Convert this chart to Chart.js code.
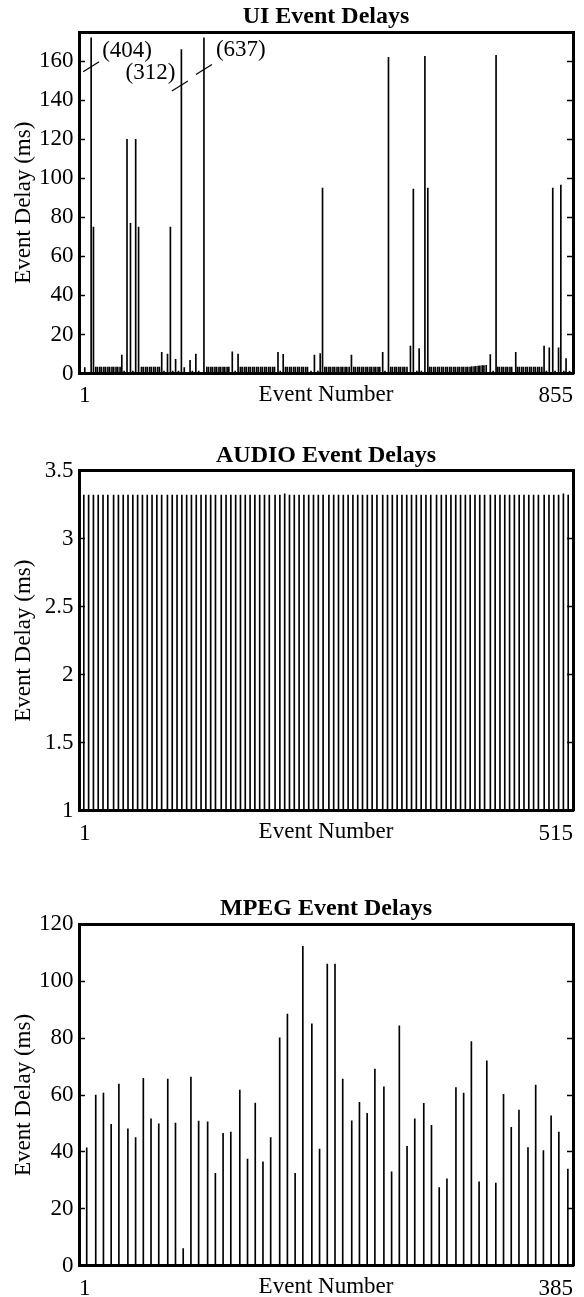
<!DOCTYPE html>
<html>
<head>
<meta charset="utf-8">
<title>Event Delays</title>
<script src="https://cdn.jsdelivr.net/npm/chart.js@4"></script>
<style>
  html, body { margin: 0; padding: 0; background: #fff; overflow: hidden; }
  body { width: 584px; height: 1297px; position: relative; }
  canvas { position: absolute; left: 0; }
</style>
</head>
<body>
<canvas id="ui" width="584" height="436" style="top:0px"></canvas>
<canvas id="audio" width="584" height="436" style="top:438px"></canvas>
<canvas id="mpeg" width="584" height="436" style="top:892px"></canvas>
<script>
// UI events: marks, one line per stretch of the trace
const uiEvents = [
  11, 22, 26,
  30, 33, 37, 40, 44, 47, 51, 54, 58, 61, 65, 68, 72,
  75, 79, 84, 90, 94, 99, 104,
  109, 112, 116, 119, 123, 126, 130, 133, 137, 140,
  144, 148, 154, 159, 163, 168, 173, 178, 183, 193, 197, 203, 208, 217,
  222, 225, 229, 232, 236, 239, 243, 246, 250, 253, 257, 260,
  266, 271, 276,
  280, 283, 287, 290, 294, 297, 301, 304, 308, 311, 315, 318, 322, 325, 329, 332, 336, 339,
  345, 349, 354,
  358, 361, 365, 368, 372, 375, 379, 382, 386, 389, 393, 396,
  402, 408, 414, 418, 422,
  426, 429, 433, 436, 440, 443, 447, 450, 454, 457, 461, 464, 468,
  472,
  476, 479, 483, 486, 490, 493, 497, 500, 504, 507, 511, 514, 518, 521,
  526, 530, 536,
  540, 543, 547, 550, 554, 557, 561, 564, 568,
  574, 579, 585, 589, 593, 599, 604,
  607, 610, 614, 617, 621, 624, 628, 631, 635, 638, 642, 645, 649, 652, 656, 659, 663, 666, 670, 673, 677, 680, 684, 687, 691, 694, 698, 701, 705,
  712, 717, 722,
  725, 728, 732, 735, 739, 742, 746, 749,
  756,
  759, 762, 766, 769, 773, 776, 780, 783, 787, 790, 794, 797, 801,
  805, 809, 814, 820, 824, 830, 834, 839, 843, 849
];
const uiDelays = [
  3.0, 172, 75,
  3.3, 3.3, 3.3, 3.3, 3.3, 3.3, 3.3, 3.3, 3.3, 3.3, 3.3, 3.3, 3.3,
  9.4, 1.2, 120, 77, 1.2, 120, 75,
  3.3, 3.3, 3.3, 3.3, 3.3, 3.3, 3.3, 3.3, 3.3, 3.3,
  10.8, 1.2, 9.9, 75, 1.2, 7.2, 1.2, 166, 3.0, 6.7, 1.2, 9.9, 1.2, 172,
  3.3, 3.3, 3.3, 3.3, 3.3, 3.3, 3.3, 3.3, 3.3, 3.3, 3.3, 3.3,
  11.1, 1.2, 9.9,
  3.3, 3.3, 3.3, 3.3, 3.3, 3.3, 3.3, 3.3, 3.3, 3.3, 3.3, 3.3, 3.3, 3.3, 3.3, 3.3, 3.3, 3.3,
  10.8, 1.2, 9.8,
  3.3, 3.3, 3.3, 3.3, 3.3, 3.3, 3.3, 3.3, 3.3, 3.3, 3.3, 3.3,
  1.2, 9.4, 1.2, 10.2, 95,
  3.3, 3.3, 3.3, 3.3, 3.3, 3.3, 3.3, 3.3, 3.3, 3.3, 3.3, 3.3, 3.3,
  9.4,
  3.3, 3.3, 3.3, 3.3, 3.3, 3.3, 3.3, 3.3, 3.3, 3.3, 3.3, 3.3, 3.3, 3.3,
  10.8, 1.2, 162,
  3.3, 3.3, 3.3, 3.3, 3.3, 3.3, 3.3, 3.3, 3.3,
  14, 94.5, 1.2, 12.8, 1.2, 162.5, 95,
  3.3, 3.3, 3.3, 3.3, 3.3, 3.3, 3.3, 3.3, 3.3, 3.3, 3.3, 3.3, 3.3, 3.3, 3.3, 3.3, 3.3, 3.3, 3.3, 3.3, 3.3, 3.5, 3.6, 3.7, 3.8, 3.9, 4.0, 4.1, 4.2,
  9.7, 1.2, 163,
  3.3, 3.3, 3.3, 3.3, 3.3, 3.3, 3.3, 3.3,
  10.9,
  3.3, 3.3, 3.3, 3.3, 3.3, 3.3, 3.3, 3.3, 3.3, 3.3, 3.3, 3.3, 3.3,
  14, 1.2, 13.1, 95, 1.2, 13.1, 96.5, 1.2, 7.7, 1.2
];
// off-scale UI events: where the broken line sits and the real delay
const uiBreakEvents = [22, 178, 217];
const uiBreakAt = [157.2, 147.3, 155.8];
const uiBreakLabels = ['(404)', '(312)', '(637)'];
const uiYTicks = [0, 20, 40, 60, 80, 100, 120, 140, 160];

const audioEvents = [
  6, 11, 16, 21, 26, 31, 37, 42, 47, 52,
  57, 62, 67, 72, 77, 82, 87, 93, 98, 103,
  108, 113, 118, 123, 128, 133, 138, 143, 149, 154,
  159, 164, 169, 174, 179, 184, 189, 194, 199, 205,
  210, 215, 220, 225, 230, 235, 240, 245, 250, 255,
  261, 266, 271, 276, 281, 286, 291, 296, 301, 306,
  311, 317, 322, 327, 332, 337, 342, 347, 352, 357,
  362, 367, 373, 378, 383, 388, 393, 398, 403, 408,
  413, 418, 423, 429, 434, 439, 444, 449, 454, 459,
  464, 469, 474, 479, 485, 490, 495, 500, 505, 510
];
const audioDelays = [
  3.32, 3.32, 3.32, 3.32, 3.32, 3.32, 3.32, 3.32, 3.32, 3.32,
  3.32, 3.32, 3.32, 3.32, 3.32, 3.32, 3.32, 3.32, 3.32, 3.32,
  3.32, 3.32, 3.32, 3.32, 3.32, 3.32, 3.32, 3.32, 3.32, 3.32,
  3.32, 3.32, 3.32, 3.32, 3.32, 3.32, 3.32, 3.32, 3.32, 3.32,
  3.32, 3.33, 3.32, 3.32, 3.32, 3.32, 3.32, 3.32, 3.32, 3.32,
  3.32, 3.32, 3.32, 3.32, 3.32, 3.32, 3.32, 3.32, 3.32, 3.32,
  3.32, 3.32, 3.32, 3.32, 3.32, 3.32, 3.32, 3.32, 3.32, 3.32,
  3.32, 3.32, 3.32, 3.32, 3.32, 3.32, 3.32, 3.32, 3.32, 3.32,
  3.32, 3.32, 3.32, 3.32, 3.32, 3.32, 3.32, 3.32, 3.32, 3.32,
  3.32, 3.32, 3.32, 3.32, 3.32, 3.32, 3.32, 3.32, 3.33, 3.32
];
const audioYTicks = [1, 1.5, 2, 2.5, 3, 3.5];

const mpegEvents = [
  7, 14, 20, 26, 32, 39, 45, 51, 57, 63,
  70, 76, 82, 88, 94, 101, 107, 113, 119, 126,
  132, 138, 144, 150, 157, 163, 169, 175, 182, 188,
  194, 200, 206, 213, 219, 225, 231, 238, 244, 250,
  256, 262, 269, 275, 281, 287, 294, 300, 306, 312,
  318, 325, 331, 337, 343, 350, 356, 362, 368, 374,
  381
];
const mpegDelays = [
  41.4, 60.0, 60.7, 49.7, 63.8, 48.1, 45.0, 65.9, 51.6, 49.9,
  65.6, 50.1, 6.0, 66.3, 50.8, 50.6, 32.5, 46.5, 47.0, 61.7,
  37.5, 57.2, 36.5, 45.0, 80.1, 88.4, 32.5, 112.3, 85.0, 41.0,
  106.0, 106.0, 65.6, 50.9, 57.4, 53.6, 69.1, 62.9, 33.0, 84.3,
  42.0, 51.6, 57.1, 49.3, 27.5, 30.5, 62.6, 60.7, 78.8, 29.5,
  72.0, 29.0, 60.2, 48.6, 54.7, 41.5, 63.5, 40.5, 52.7, 47.0,
  34.0
];
const mpegYTicks = [0, 20, 40, 60, 80, 100, 120];

const serif = "'Liberation Serif', 'Times New Roman', serif";
Chart.defaults.font.family = serif;
Chart.defaults.color = '#000';

// bold title centred over the plot frame
const plotTitle = {
  id: 'plotTitle',
  afterDraw(chart, args, opts) {
    const { ctx, chartArea } = chart;
    ctx.save();
    ctx.font = 'bold 24px ' + serif;
    ctx.fillStyle = '#000';
    ctx.textAlign = 'center';
    ctx.textBaseline = 'alphabetic';
    ctx.fillText(opts.text, (chartArea.left + chartArea.right) / 2, chartArea.top - 9);
    ctx.restore();
  }
};

// slash marks and real values on the clipped UI events
const breakMarks = {
  id: 'breakMarks',
  afterDatasetsDraw(chart, args, opts) {
    if (!opts.events) return;
    const { ctx, scales: { x, y } } = chart;
    ctx.save();
    ctx.strokeStyle = '#000';
    ctx.lineWidth = 1.2;
    ctx.fillStyle = '#000';
    ctx.font = '23px ' + serif;
    opts.events.forEach((ev, i) => {
      const [dx, dy, align, sx] = opts.offsets[i];
      const cx = x.getPixelForValue(ev) + sx;
      const cy = y.getPixelForValue(opts.at[i]);
      ctx.beginPath();
      ctx.moveTo(cx - 8, cy + 5);
      ctx.lineTo(cx + 8, cy - 5);
      ctx.stroke();
      ctx.textAlign = align;
      ctx.fillText(opts.labels[i], x.getPixelForValue(ev) + dx, cy + dy);
    });
    ctx.restore();
  }
};

const tickFont = { family: serif, size: 23 };

function eventChart(id, s) {
  const setTicks = list => ax => { ax.ticks = list.map(v => ({ value: v })); };
  const frame = { display: true, width: 3, color: '#000' };
  const inwardTicks = { drawOnChartArea: false, drawTicks: true, tickLength: -6, tickWidth: 1.5, tickColor: '#000' };
  return new Chart(document.getElementById(id), {
    type: 'bar',
    data: {
      datasets: [{
        data: s.events.map((ev, i) => ({ x: ev, y: s.delays[i] })),
        backgroundColor: '#000',
        borderWidth: 0,
        barThickness: 1,
        xAxisID: 'x',
        yAxisID: 'y'
      }]
    },
    options: {
      responsive: false,
      animation: false,
      events: [],
      layout: { padding: { top: s.padTop, bottom: s.padBottom, left: 0, right: 0 } },
      plugins: {
        legend: { display: false },
        tooltip: { enabled: false },
        plotTitle: { text: s.title },
        breakMarks: s.breaks || {}
      },
      scales: {
        x: {
          type: 'linear', position: 'bottom', min: 1, max: s.lastEvent, offset: false,
          afterBuildTicks: setTicks([1, s.lastEvent]),
          afterFit: ax => { ax.height = 40; },
          grid: { display: false },
          border: frame,
          ticks: { align: 'inner', maxRotation: 0, autoSkip: false, padding: 1, font: tickFont, color: '#000', callback: v => String(v) },
          title: { display: true, text: 'Event Number', font: tickFont, color: '#000', padding: { top: 0, bottom: 4.5 } }
        },
        xTop: {
          type: 'linear', position: 'top', min: 1, max: s.lastEvent,
          afterFit: ax => { ax.height = 0; },
          grid: { display: false },
          border: frame,
          ticks: { display: false }
        },
        y: {
          type: 'linear', position: 'left', min: s.yMin, max: s.yMax,
          afterBuildTicks: setTicks(s.yTicks),
          afterFit: ax => { ax.width = 79; },
          grid: inwardTicks,
          border: frame,
          ticks: { padding: 11.5, font: tickFont, color: '#000', callback: v => String(v) },
          title: { display: true, text: 'Event Delay (ms)', font: tickFont, color: '#000', padding: { top: 10, bottom: 0 } }
        },
        yRight: {
          type: 'linear', position: 'right', min: s.yMin, max: s.yMax,
          afterBuildTicks: setTicks(s.yTicks),
          afterFit: ax => { ax.width = 11; },
          grid: inwardTicks,
          border: frame,
          ticks: { display: false }
        }
      }
    },
    plugins: [plotTitle, breakMarks]
  });
}

eventChart('ui', {
  title: 'UI Event Delays', events: uiEvents, delays: uiDelays, lastEvent: 855,
  yMin: 0, yMax: 175, yTicks: uiYTicks, padTop: 32, padBottom: 22.5,
  breaks: {
    events: uiBreakEvents, at: uiBreakAt, labels: uiBreakLabels,
    offsets: [[11, -10, 'left', 0], [-6, -7, 'right', -1.5], [12, -13.5, 'left', 0]]
  }
});
eventChart('audio', {
  title: 'AUDIO Event Delays', events: audioEvents, delays: audioDelays, lastEvent: 515,
  yMin: 1, yMax: 3.5, yTicks: audioYTicks, padTop: 32.7, padBottom: 23.3
});
eventChart('mpeg', {
  title: 'MPEG Event Delays', events: mpegEvents, delays: mpegDelays, lastEvent: 385,
  yMin: 0, yMax: 120, yTicks: mpegYTicks, padTop: 32.3, padBottom: 22.3
});
</script>
</body>
</html>
